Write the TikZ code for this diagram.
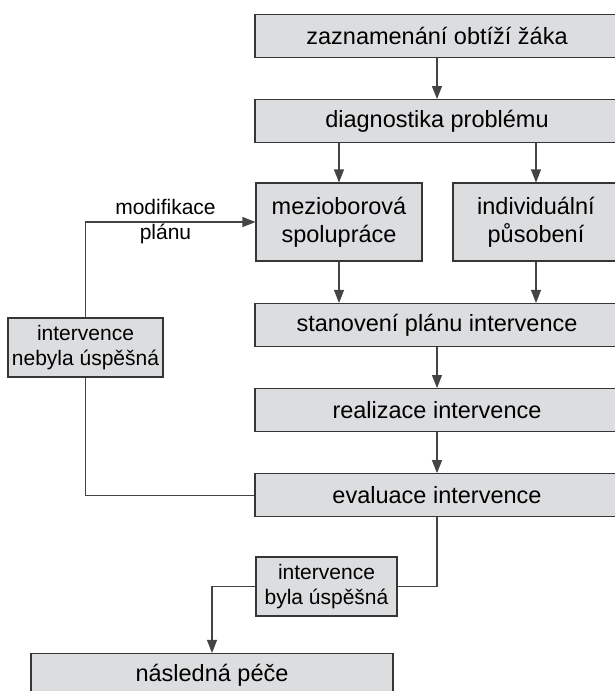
\documentclass[tikz,border=0pt]{standalone}
\usepackage{fontspec}
\setmainfont{Liberation Sans}
\usetikzlibrary{arrows.meta}
\usetikzlibrary{positioning}
\usepackage{xcolor}
\definecolor{boxfill}{HTML}{DCDDDF}
\definecolor{boxline}{HTML}{363636}
\definecolor{wire}{HTML}{444444}

\begin{document}
\begin{tikzpicture}[
    x=1pt, y=-1pt,
    node distance=41pt,
    stage/.style={draw=boxline, fill=boxfill, line width=1.1pt, minimum width=364pt,
      minimum height=43pt, inner sep=0pt, align=center, font=\fontsize{23.5}{28}\selectfont},
    branch/.style={stage, minimum width=166pt, minimum height=78pt},
    outcome/.style={stage, minimum height=59pt, font=\fontsize{21}{25}\selectfont},
    conn/.style={draw=wire, line width=1.1pt, -{Triangle[length=13pt, width=10pt]}},
    connB/.style={draw=wire, line width=1.1pt},
    annot/.style={font=\fontsize{21}{25}\selectfont, align=center, inner sep=0pt},
  ]
  \useasboundingbox (0,0) rectangle (615,691);
  \clip (0,0) rectangle (615,691);

  % === main chain ===
  \node[stage] (zazn) at (437,36) {zaznamenání obtíží žáka};
  \node[stage, below=of zazn] (diag) {diagnostika problému};
  \node[branch] (mezi) at (339,222) {mezioborová\\spolupráce};
  \node[branch] (indi) at (536,222) {individuální\\působení};
  \node[stage] (stan) at (437,325) {stanovení plánu intervence};
  \node[stage, below=of stan] (real) {realizace intervence};
  \node[stage, below=of real] (eval) {evaluace intervence};

  % === outcomes ===
  \node[outcome, minimum width=155pt] (fail) at (85.5,347.5) {intervence\\nebyla úspěšná};
  \node[outcome, minimum width=141pt] (pass) at (326.5,586.5) {intervence\\byla úspěšná};
  \node[stage, minimum width=362pt] (pece) at (212,675) {následná péče};

  \draw[conn] (zazn) -- (diag);
  \draw[conn] (diag.south -| mezi) -- (mezi);
  \draw[conn] (diag.south -| indi) -- (indi);
  \draw[conn] (mezi) -- (mezi |- stan.north);
  \draw[conn] (indi) -- (indi |- stan.north);
  \draw[conn] (stan) -- (real);
  \draw[conn] (real) -- (eval);

  % Feedback loop
  \draw[connB] (eval.west) -| (fail.south);
  \draw[conn] (fail.north) |- node[annot, pos=0.75, xshift=-5pt] {modifikace\\plánu} (mezi.west);

  % Success
  \draw[connB] (eval.south) |- (pass.east);
  \draw[conn] (pass.west) -| (pece.north);

\end{tikzpicture}
\end{document}
